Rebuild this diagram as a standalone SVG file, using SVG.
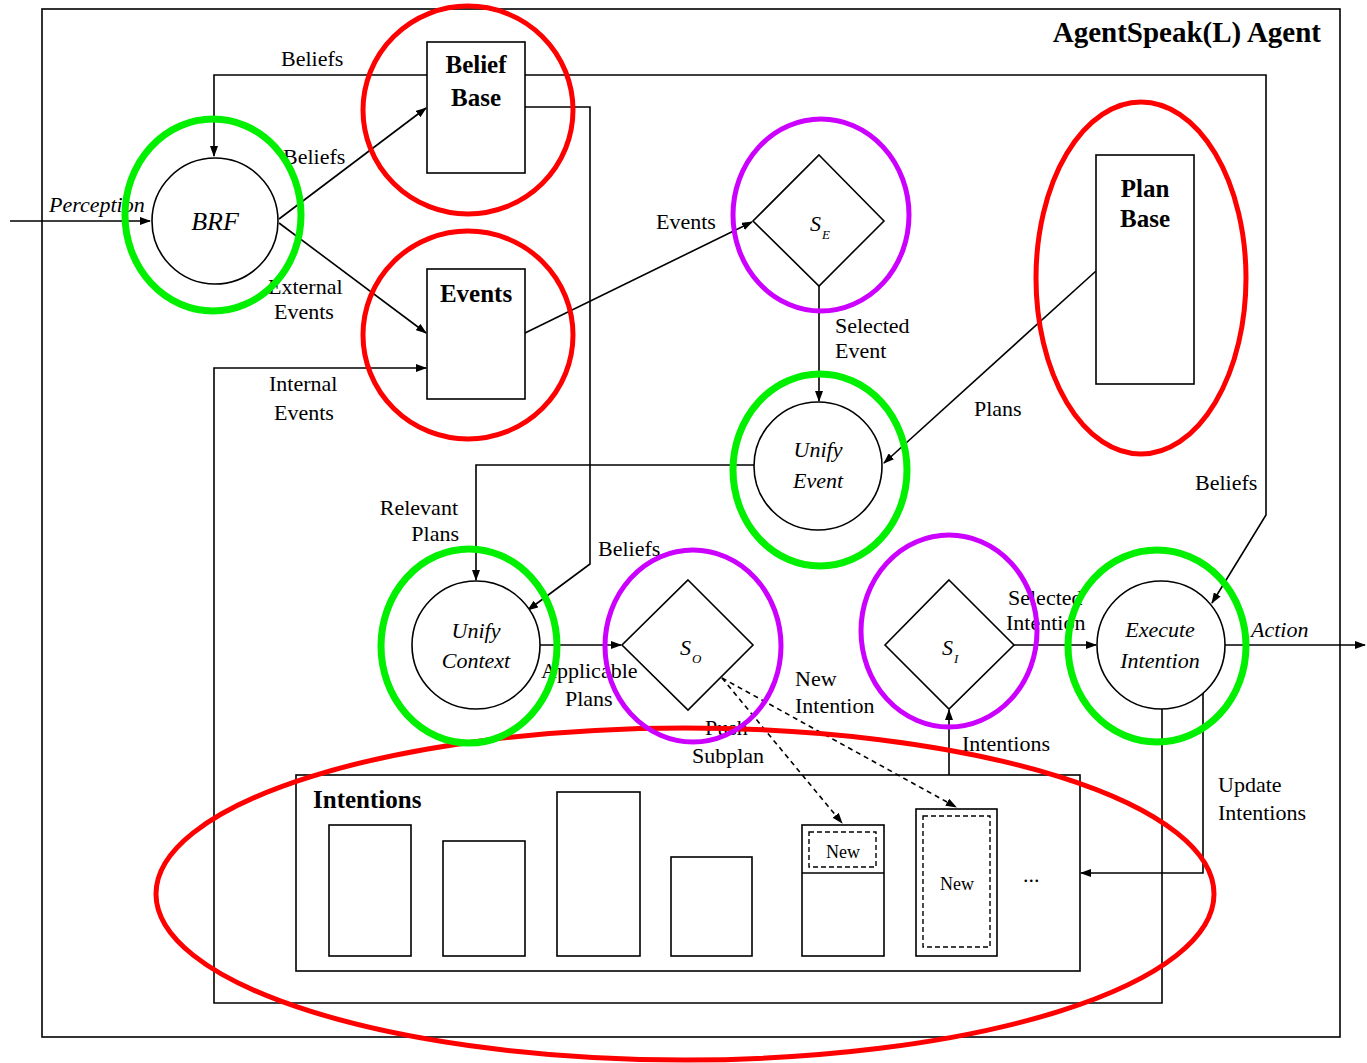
<svg xmlns="http://www.w3.org/2000/svg" width="1367" height="1063" viewBox="0 0 1367 1063">
<style>
text{font-family:"Liberation Serif","Times New Roman",serif;fill:#000}
.lbl{font-size:22px}
.it{font-size:22px;font-style:italic}
.bd{font-size:25px;font-weight:bold}
.node{fill:#fff;stroke:#000;stroke-width:1.6}
.conn{fill:none;stroke:#000;stroke-width:1.6}
.dash{fill:none;stroke:#000;stroke-width:1.6;stroke-dasharray:5 4}
.mid{text-anchor:middle}
.red{fill:none;stroke:#ff0000;stroke-width:5}
.grn{fill:none;stroke:#00f000;stroke-width:7}
.pur{fill:none;stroke:#cc00ff;stroke-width:5}
</style>
<defs>
<marker id="ah" markerWidth="11" markerHeight="8" refX="10" refY="4" orient="auto" markerUnits="userSpaceOnUse">
<path d="M0,0 L11,4 L0,8 z" fill="#000"/>
</marker>
</defs>
<rect x="0" y="0" width="1367" height="1063" fill="#fff"/>
<rect x="42" y="9" width="1298" height="1028" fill="none" stroke="#000" stroke-width="1.6"/>
<text x="1321" y="42" font-size="29" font-weight="bold" text-anchor="end">AgentSpeak(L) Agent</text>

<g id="connectors">
<path class="conn" d="M10,221 H150" marker-end="url(#ah)"/>
<path class="conn" d="M427,75 H214 V156" marker-end="url(#ah)"/>
<path class="conn" d="M525,75 H1266 V515 L1212,603" marker-end="url(#ah)"/>
<path class="conn" d="M279,219 L426,108" marker-end="url(#ah)"/>
<path class="conn" d="M279,223 L426,333" marker-end="url(#ah)"/>
<path class="conn" d="M525,107 H590 V564 L528,610" marker-end="url(#ah)"/>
<path class="conn" d="M525,333 L752,222" marker-end="url(#ah)"/>
<path class="conn" d="M819,286 V401" marker-end="url(#ah)"/>
<path class="conn" d="M1096,271 L884,463" marker-end="url(#ah)"/>
<path class="conn" d="M754,465 H476 V580" marker-end="url(#ah)"/>
<path class="conn" d="M540,645 H621" marker-end="url(#ah)"/>
<path class="dash" d="M722,678 L842,823" marker-end="url(#ah)"/>
<path class="dash" d="M722,678 L956,807" marker-end="url(#ah)"/>
<path class="conn" d="M949,775 V710" marker-end="url(#ah)"/>
<path class="conn" d="M1014,645 H1096" marker-end="url(#ah)"/>
<path class="conn" d="M1225,645 H1365" marker-end="url(#ah)"/>
<path class="conn" d="M1162,709 V1003 H214 V368 H426" marker-end="url(#ah)"/>
<path class="conn" d="M1203,693 V873 H1081" marker-end="url(#ah)"/>
</g>

<g id="labels">
<text class="it" x="49" y="212">Perception</text>
<text class="lbl" x="281" y="66">Beliefs</text>
<text class="lbl" x="283" y="164">Beliefs</text>
<text class="lbl" x="268" y="294">External</text>
<text class="lbl" x="274" y="319">Events</text>
<text class="lbl" x="269" y="391">Internal</text>
<text class="lbl" x="274" y="420">Events</text>
<text class="lbl" x="656" y="229">Events</text>
<text class="lbl" x="835" y="333">Selected</text>
<text class="lbl" x="835" y="358">Event</text>
<text class="lbl" x="974" y="416">Plans</text>
<text class="lbl" x="458" y="515" text-anchor="end">Relevant</text>
<text class="lbl" x="459" y="541" text-anchor="end">Plans</text>
<text class="lbl" x="598" y="556">Beliefs</text>
<text class="lbl" x="541" y="678">Applicable</text>
<text class="lbl" x="565" y="706">Plans</text>
<text class="lbl" x="705" y="735">Push</text>
<text class="lbl" x="692" y="763">Subplan</text>
<text class="lbl" x="795" y="686">New</text>
<text class="lbl" x="795" y="713">Intention</text>
<text class="lbl" x="962" y="751">Intentions</text>
<text class="lbl" x="1008" y="605">Selected</text>
<text class="lbl" x="1006" y="630">Intention</text>
<text class="it" x="1251" y="637">Action</text>
<text class="lbl" x="1195" y="490">Beliefs</text>
<text class="lbl" x="1218" y="792">Update</text>
<text class="lbl" x="1218" y="820">Intentions</text>
</g>

<g id="brf">
<circle class="node" cx="215" cy="221" r="63"/>
<text class="mid" x="215" y="230" font-size="26" font-style="italic">BRF</text>
</g>
<g id="belief-base">
<rect class="node" x="427" y="42" width="98" height="131"/>
<text class="bd mid" x="476" y="73">Belief</text>
<text class="bd mid" x="476" y="106">Base</text>
</g>
<g id="events">
<rect class="node" x="427" y="269" width="98" height="130"/>
<text class="bd mid" x="476" y="302">Events</text>
</g>
<g id="se">
<polygon class="node" points="819,155 884,221 819,286 753,221"/>
<text class="it" x="810" y="231">S</text>
<text x="822" y="239" font-size="13" font-style="italic">E</text>
</g>
<g id="plan-base">
<rect class="node" x="1096" y="155" width="98" height="229"/>
<text class="bd mid" x="1145" y="197">Plan</text>
<text class="bd mid" x="1145" y="227">Base</text>
</g>
<g id="unify-event">
<circle class="node" cx="818" cy="466" r="64"/>
<text class="it mid" x="818" y="457">Unify</text>
<text class="it mid" x="818" y="488">Event</text>
</g>
<g id="unify-context">
<circle class="node" cx="476" cy="645" r="64"/>
<text class="it mid" x="476" y="638">Unify</text>
<text class="it mid" x="476" y="668">Context</text>
</g>
<g id="so">
<polygon class="node" points="688,580 753,645 688,710 622,645"/>
<text class="it" x="680" y="655">S</text>
<text x="692" y="663" font-size="13" font-style="italic">O</text>
</g>
<g id="si">
<polygon class="node" points="949,580 1014,645 949,709 885,645"/>
<text class="it" x="942" y="655">S</text>
<text x="954" y="663" font-size="13" font-style="italic">I</text>
</g>
<g id="execute-intention">
<circle class="node" cx="1161" cy="645" r="64"/>
<text class="it mid" x="1160" y="637">Execute</text>
<text class="it mid" x="1160" y="668">Intention</text>
</g>
<g id="intentions">
<rect x="296" y="775" width="784" height="196" fill="none" stroke="#000" stroke-width="1.6"/>
<text class="bd" x="313" y="808">Intentions</text>
<rect class="node" x="329" y="825" width="82" height="131"/>
<rect class="node" x="443" y="841" width="82" height="115"/>
<rect class="node" x="557" y="792" width="83" height="164"/>
<rect class="node" x="671" y="857" width="81" height="99"/>
<rect class="node" x="802" y="825" width="82" height="131"/>
<line x1="802" y1="873" x2="884" y2="873" stroke="#000" stroke-width="1.6"/>
<rect x="809" y="832" width="67" height="35" fill="none" stroke="#000" stroke-width="1.4" stroke-dasharray="5 3"/>
<text x="843" y="858" font-size="18" class="mid">New</text>
<rect class="node" x="916" y="809" width="81" height="147"/>
<rect x="923" y="816" width="67" height="131" fill="none" stroke="#000" stroke-width="1.4" stroke-dasharray="5 3"/>
<text x="957" y="890" font-size="18" class="mid">New</text>
<text class="lbl" x="1023" y="882">...</text>
</g>

<g id="annotations">
<ellipse class="red" cx="468" cy="110" rx="105" ry="104"/>
<ellipse class="red" cx="468" cy="335" rx="105" ry="104"/>
<ellipse class="red" cx="1141" cy="278" rx="105" ry="176"/>
<ellipse class="red" cx="685" cy="894" rx="529" ry="166"/>
<ellipse class="grn" cx="213" cy="215" rx="88" ry="96"/>
<ellipse class="grn" cx="820" cy="470" rx="87" ry="96"/>
<ellipse class="grn" cx="469" cy="646" rx="88" ry="97"/>
<ellipse class="grn" cx="1157" cy="646" rx="89" ry="96"/>
<ellipse class="pur" cx="821" cy="215" rx="88" ry="96"/>
<ellipse class="pur" cx="693" cy="646" rx="88" ry="96"/>
<ellipse class="pur" cx="949" cy="631" rx="88" ry="96"/>
</g>
</svg>
